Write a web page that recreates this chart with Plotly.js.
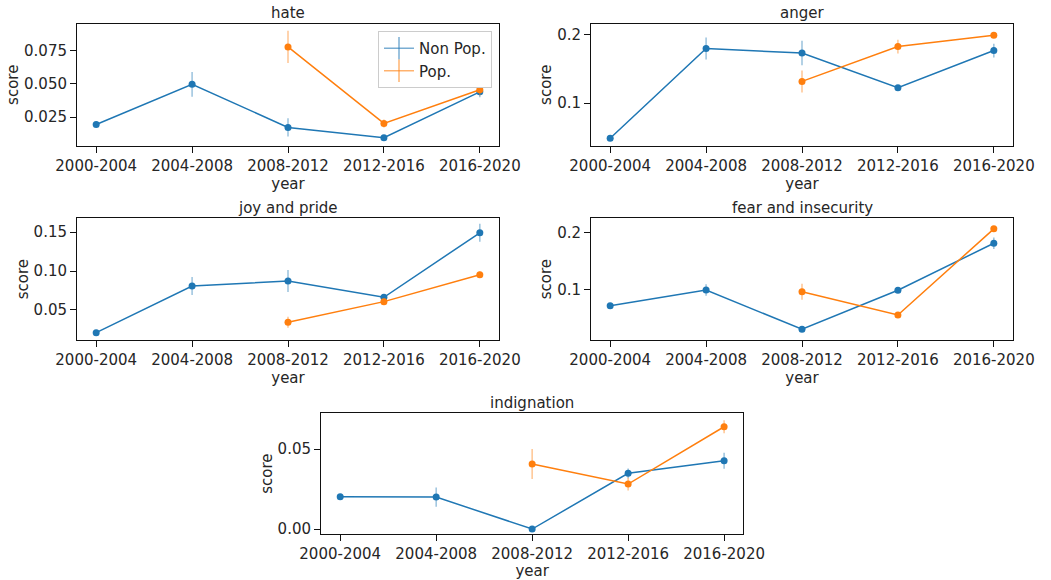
<!DOCTYPE html>
<html>
<head>
<meta charset="utf-8">
<script src="https://cdn.plot.ly/plotly-3.0.1.min.js"></script>
<style>html,body{margin:0;padding:0;background:#fff;}#chart{width:1051px;height:580px;}</style>
</head>
<body>
<div id="chart"></div>
<script>
// ---- data ----
const years = ['2000-2004', '2004-2008', '2008-2012', '2012-2016', '2016-2020'];
const seriesNames = ['Non Pop.', 'Pop.'];
const panelTitles = ['hate', 'anger', 'joy and pride', 'fear and insecurity', 'indignation'];

const hateNonPop = [0.0195, 0.0495, 0.0173, 0.0096, 0.0439];
const hateNonPopErr = [0.001, 0.0093, 0.0068, 0.0015, 0.004];
const hatePop = [null, null, 0.0775, 0.0203, 0.0454];
const hatePopErr = [null, null, 0.012, 0.003, 0.004];

const angerNonPop = [0.0488, 0.1795, 0.173, 0.1225, 0.1766];
const angerNonPopErr = [0.002, 0.016, 0.018, 0.004, 0.01];
const angerPop = [null, null, 0.1316, 0.1824, 0.199];
const angerPopErr = [null, null, 0.016, 0.01, 0.004];

const joyNonPop = [0.0209, 0.0808, 0.0872, 0.0663, 0.149];
const joyNonPopErr = [0.002, 0.0115, 0.014, 0.003, 0.0115];
const joyPop = [null, null, 0.0342, 0.0607, 0.0953];
const joyPopErr = [null, null, 0.007, 0.004, 0.004];

const fearNonPop = [0.0728, 0.1, 0.0319, 0.0995, 0.181];
const fearNonPopErr = [0.003, 0.01, 0.004, 0.004, 0.01];
const fearPop = [null, null, 0.097, 0.0567, 0.206];
const fearPopErr = [null, null, 0.014, 0.004, 0.004];

const indigNonPop = [0.0202, 0.020, 0.0, 0.0348, 0.0427];
const indigNonPopErr = [0.001, 0.006, 0.0005, 0.003, 0.005];
const indigPop = [null, null, 0.0406, 0.0281, 0.0639];
const indigPopErr = [null, null, 0.0094, 0.004, 0.004];

const yTicks = [[0.025, 0.05, 0.075], [0.1, 0.2], [0.05, 0.10, 0.15], [0.1, 0.2], [0.00, 0.05]];
const yFormats = ['.3f', '.1f', '.2f', '.1f', '.2f'];
const yRanges = [[0.0034, 0.095], [0.0375, 0.216], [0.0115, 0.1676], [0.0133, 0.2243], [-0.0031, 0.0723]];

const panels = [
  [hateNonPop, hateNonPopErr, hatePop, hatePopErr],
  [angerNonPop, angerNonPopErr, angerPop, angerPopErr],
  [joyNonPop, joyNonPopErr, joyPop, joyPopErr],
  [fearNonPop, fearNonPopErr, fearPop, fearPopErr],
  [indigNonPop, indigNonPopErr, indigPop, indigPopErr]
];

// ---- styling / layout ----
const W = 1051, H = 580;
const boxes = [ // [left, right, top, bottom] in px
  [77, 499, 23.5, 146],
  [591, 1013, 23.5, 146],
  [77, 499, 218.3, 340],
  [591, 1013, 218.3, 340],
  [321, 743.3, 413.3, 534]
];
const colors = ['#1f77b4', '#ff7f0e'];
const errColors = ['rgba(31,119,180,0.45)', 'rgba(255,127,14,0.45)'];
const legColors = ['rgba(31,119,180,0.6)', 'rgba(255,127,14,0.6)'];
const FONT = 'DejaVu Sans, sans-serif';
const TXT = '#262626';

const traces = [];
const layout = {
  width: W, height: H,
  margin: {l: 0, r: 0, t: 0, b: 0},
  paper_bgcolor: '#fff', plot_bgcolor: '#fff',
  font: {family: FONT, size: 15, color: TXT},
  showlegend: true,
  legend: {
    x: 492 / W, xanchor: 'right', y: 1 - 31 / H, yanchor: 'top',
    bgcolor: '#fff', bordercolor: '#cccccc', borderwidth: 1,
    font: {family: FONT, size: 15, color: TXT}
  },
  annotations: []
};

panels.forEach((p, i) => {
  const n = i + 1;
  const xa = n === 1 ? 'x' : 'x' + n;
  const ya = n === 1 ? 'y' : 'y' + n;
  const b = boxes[i];
  for (let s = 0; s < 2; s++) {
    traces.push({
      type: 'scatter', mode: 'lines+markers',
      x: years, y: p[2 * s],
      xaxis: xa, yaxis: ya,
      name: seriesNames[s], showlegend: false,
      line: {color: colors[s], width: 1.5},
      marker: {color: colors[s], size: 7},
      error_y: {type: 'data', array: p[2 * s + 1], visible: true, color: errColors[s], thickness: 1.5, width: 0},
      connectgaps: false, cliponaxis: false
    });
  }
  const axCommon = {
    showline: true, mirror: true, linecolor: '#111', linewidth: 1,
    ticks: 'outside', ticklen: 6, tickwidth: 1, tickcolor: '#111',
    showgrid: false, zeroline: false,
    tickfont: {family: FONT, size: 15, color: TXT}
  };
  layout['xaxis' + (n === 1 ? '' : n)] = Object.assign({}, axCommon, {
    domain: [b[0] / W, b[1] / W], anchor: ya,
    type: 'category', categoryorder: 'array', categoryarray: years,
    range: [-0.2, 4.2],
    title: {text: 'year', font: {family: FONT, size: 15, color: TXT}, standoff: 2}
  });
  layout['yaxis' + (n === 1 ? '' : n)] = Object.assign({}, axCommon, {
    domain: [1 - b[3] / H, 1 - b[2] / H], anchor: xa,
    range: yRanges[i], tickvals: yTicks[i], tickformat: yFormats[i],
    title: {text: 'score', font: {family: FONT, size: 15, color: TXT}, standoff: 1}
  });
  layout.annotations.push({
    text: panelTitles[i], xref: 'paper', yref: 'paper',
    x: (b[0] + b[1]) / 2 / W, y: 1 - b[2] / H, xanchor: 'center', yanchor: 'bottom',
    yshift: -1, showarrow: false, font: {family: FONT, size: 15, color: TXT}
  });
});

// legend entries (errorbar-style glyph)
for (let s = 0; s < 2; s++) {
  traces.push({
    type: 'scatter', mode: 'lines+markers', x: [null], y: [null],
    name: seriesNames[s], showlegend: true, hoverinfo: 'skip',
    line: {color: legColors[s], width: 1.5},
    marker: {symbol: 'line-ns-open', size: 16, line: {width: 1.5, color: legColors[s]}}
  });
}

Plotly.newPlot('chart', traces, layout, {staticPlot: true, displayModeBar: false});
</script>
</body>
</html>
